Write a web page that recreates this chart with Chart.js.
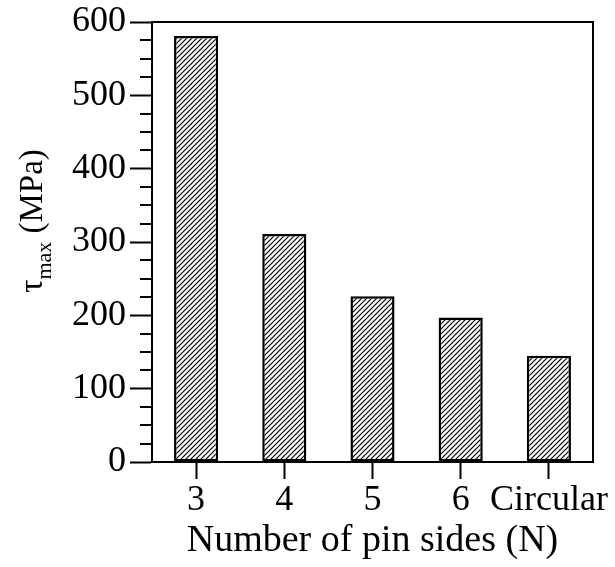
<!DOCTYPE html>
<html>
<head>
<meta charset="utf-8">
<script src="https://cdn.jsdelivr.net/npm/chart.js@4.4.0/dist/chart.umd.min.js"></script>
<style>
  html, body { margin: 0; padding: 0; background: #fff; }
  canvas { display: block; }
</style>
</head>
<body>
<canvas id="chart" width="615" height="567"></canvas>
<script>
// data
const categories = ["3", "4", "5", "6", "Circular"];
const tauMax = [581, 311, 226, 197, 145];
const yMin = 0;
const yMax = 600;
const majorStep = 100;
const minorStep = 25;

const FONT = "'Liberation Serif', 'Times New Roman', serif";

// diagonal hatch, "/" direction
function makeHatch() {
  const s = 5;
  const c = document.createElement("canvas");
  c.width = s;
  c.height = s;
  const g = c.getContext("2d");
  g.fillStyle = "#fff";
  g.fillRect(0, 0, s, s);
  g.strokeStyle = "#000";
  g.lineWidth = 1.2;
  g.beginPath();
  g.moveTo(-1, s + 1);
  g.lineTo(s + 1, -1);
  g.moveTo(-1, 1);
  g.lineTo(1, -1);
  g.moveTo(s - 1, s + 1);
  g.lineTo(s + 1, s - 1);
  g.stroke();
  return g.createPattern(c, "repeat");
}

const ctx = document.getElementById("chart").getContext("2d");

// frame, minor ticks and the y title with subscript
const extras = {
  id: "extras",
  afterDraw(chart) {
    const { ctx, chartArea: a, scales } = chart;
    const y = scales.y;
    ctx.save();
    ctx.strokeStyle = "#000";
    ctx.lineWidth = 2;
    ctx.beginPath();
    ctx.moveTo(a.left, a.top);
    ctx.lineTo(a.right, a.top);
    ctx.lineTo(a.right, a.bottom);
    ctx.stroke();

    // minor ticks
    ctx.beginPath();
    for (let v = yMin; v <= yMax; v += minorStep) {
      if (v % majorStep === 0) continue;
      const py = Math.round(y.getPixelForValue(v));
      ctx.moveTo(a.left - 12, py);
      ctx.lineTo(a.left, py);
    }
    ctx.stroke();

    // rotated title: τ_max (MPa)
    const big = "33px " + FONT;
    const small = "22px " + FONT;
    ctx.fillStyle = "#000";
    ctx.translate(42, 221);
    ctx.rotate(-Math.PI / 2);
    ctx.textBaseline = "alphabetic";
    ctx.textAlign = "left";
    ctx.font = big;
    const wTau = ctx.measureText("τ").width;
    const wUnit = ctx.measureText(" (MPa)").width;
    ctx.font = small;
    const wSub = ctx.measureText("max").width;
    let x = -(wTau + wSub + wUnit) / 2;
    ctx.font = big;
    ctx.fillText("τ", x, 0);
    x += wTau;
    ctx.font = small;
    ctx.fillText("max", x, 9);
    x += wSub;
    ctx.font = big;
    ctx.fillText(" (MPa)", x, 0);
    ctx.restore();
  }
};

new Chart(ctx, {
  type: "bar",
  data: {
    labels: categories,
    datasets: [{
      data: tauMax,
      backgroundColor: makeHatch(),
      borderColor: "#000",
      borderWidth: 2.5,
      borderSkipped: false,
      categoryPercentage: 1,
      barPercentage: 0.5
    }]
  },
  options: {
    responsive: false,
    animation: false,
    layout: { padding: { top: 22, right: 22, left: 0, bottom: 0 } },
    plugins: {
      legend: { display: false },
      tooltip: { enabled: false }
    },
    scales: {
      x: {
        grid: {
          drawOnChartArea: false,
          color: "#000",
          tickLength: 17,
          tickWidth: 2,
          offset: false
        },
        border: { color: "#000", width: 2 },
        ticks: {
          color: "#000",
          font: { family: FONT, size: 36 },
          padding: 0,
          maxRotation: 0,
          autoSkip: false
        },
        title: {
          display: true,
          text: "Number of pin sides (N)",
          color: "#000",
          font: { family: FONT, size: 38 },
          padding: { top: 0, bottom: 3 }
        },
        afterFit(scale) {
          scale.height = 567 - 462;
          scale.paddingLeft = 0;
          scale.paddingRight = 0;
        }
      },
      y: {
        min: yMin,
        max: yMax,
        grid: {
          drawOnChartArea: false,
          color: "#000",
          tickLength: 22,
          tickWidth: 2
        },
        border: { color: "#000", width: 2 },
        ticks: {
          stepSize: majorStep,
          color: "#000",
          font: { family: FONT, size: 36 },
          padding: 4
        },
        afterFit(scale) {
          scale.width = 152;
          scale.paddingTop = 0;
          scale.paddingBottom = 0;
        }
      }
    }
  },
  plugins: [extras]
});
</script>
</body>
</html>
